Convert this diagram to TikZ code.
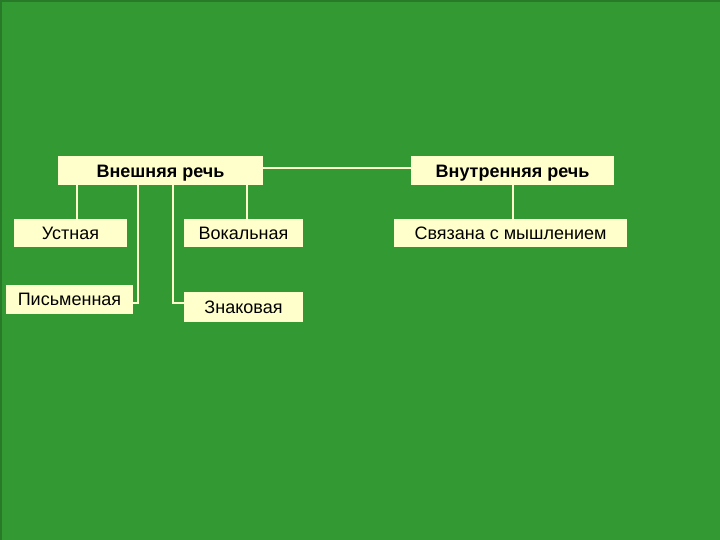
\documentclass[tikz,border=0pt]{standalone}
\usepackage{fontspec}
\setmainfont{Liberation Sans}
\definecolor{bg}{HTML}{339933}
\definecolor{bgdark}{HTML}{287A28}
\definecolor{boxfill}{HTML}{FFFFCC}
\definecolor{linec}{HTML}{FFFFCC}
\newcommand{\lowtext}[1]{\raisebox{-3pt}[\height][\depth]{#1}}
\begin{document}
\begin{tikzpicture}[x=1pt,y=-1pt,
  box/.style={rectangle, fill=boxfill, draw=none, inner sep=0pt, font=\fontsize{18}{21}\selectfont, text=black},
  headbox/.style={box, font=\fontsize{18}{21}\selectfont\bfseries},
  conn/.style={draw=linec, line width=2pt}]
\fill[bg] (0,0) rectangle (720,540);
\useasboundingbox (0,0) rectangle (720,540);
\draw[bgdark, line width=2pt] (1,540) -- (1,1) -- (720,1);
\node[headbox, minimum width=205pt, minimum height=29pt] (ext) at (160.5,170.5) {\lowtext{Внешняя речь}};
\node[headbox, minimum width=203pt, minimum height=29pt] (int) at (512.5,170.5) {\lowtext{Внутренняя речь}};
\node[box, minimum width=113pt, minimum height=28pt] (ust) at (70.5,233) {Устная};
\node[box, minimum width=119pt, minimum height=28pt] (vok) at (243.5,233) {Вокальная};
\node[box, minimum width=127pt, minimum height=29pt] (pis) at (69.5,299.5) {Письменная};
\node[box, minimum width=119pt, minimum height=30pt] (zn) at (243.5,307) {Знаковая};
\node[box, minimum width=233pt, minimum height=28pt] (svz) at (510.5,233) {Связана с мышлением};
\coordinate (xa) at (77,0);
\coordinate (xb) at (138,0);
\coordinate (xc) at (173,0);
\coordinate (xd) at (247,0);
\coordinate (xe) at (513,0);
\draw[conn] ([yshift=2.5pt]ext.east) -- ([yshift=2.5pt]int.west);
\draw[conn] (ext.south -| xa) -- (ust.north -| xa);
\draw[conn] (ext.south -| xd) -- (vok.north -| xd);
\draw[conn] (ext.south -| xb) |- ([yshift=-3.5pt]pis.east);
\draw[conn] (ext.south -| xc) |- ([yshift=4pt]zn.west);
\draw[conn] (int.south -| xe) -- (svz.north -| xe);
\end{tikzpicture}
\end{document}
